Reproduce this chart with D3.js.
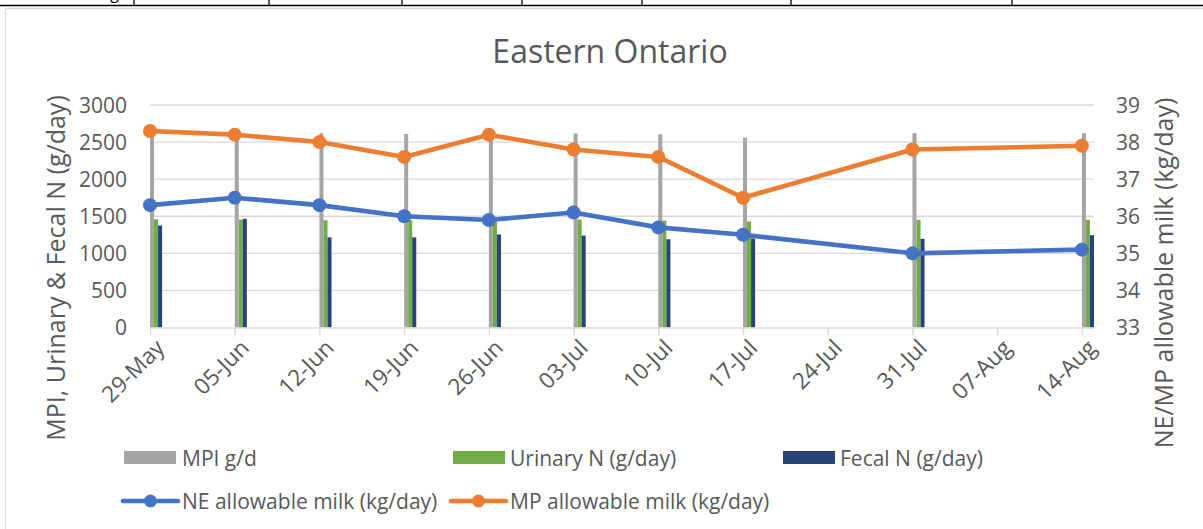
<!DOCTYPE html>
<html>
<head>
<meta charset="utf-8">
<script src="https://cdn.jsdelivr.net/npm/d3@7"></script>
<style>
  html, body { margin: 0; padding: 0; background: #fff; }
  svg { display: block; font-family: "Open Sans", "Noto Sans", sans-serif; }
</style>
</head>
<body>
<svg id="chart" width="1203" height="529"></svg>
<script>
// Weekly sampling dates (Eastern Ontario)
const dates = ["2021-05-29", "2021-06-05", "2021-06-12", "2021-06-19", "2021-06-26",
               "2021-07-03", "2021-07-10", "2021-07-17", "2021-07-31", "2021-08-14"];
// Bar series, g/day (left axis)
const mpi     = [2640, 2630, 2620, 2610, 2625, 2615, 2605, 2560, 2620, 2620];
const urinary = [1460, 1455, 1445, 1450, 1450, 1455, 1440, 1430, 1450, 1450];
const fecal   = [1375, 1465, 1215, 1215, 1255, 1240, 1190, 1200, 1195, 1245];
// Line series, kg/day (right axis)
const neMilk  = [36.3, 36.5, 36.3, 36.0, 35.9, 36.1, 35.7, 35.5, 35.0, 35.1];
const mpMilk  = [38.3, 38.2, 38.0, 37.6, 38.2, 37.8, 37.6, 36.5, 37.8, 37.9];
// Axis ticks
const xTickDates = ["2021-05-29", "2021-06-05", "2021-06-12", "2021-06-19", "2021-06-26", "2021-07-03",
                    "2021-07-10", "2021-07-17", "2021-07-24", "2021-07-31", "2021-08-07", "2021-08-14"];
const leftTicks  = [0, 500, 1000, 1500, 2000, 2500, 3000];
const rightTicks = [33, 34, 35, 36, 37, 38, 39];
// Fragments of the table row above the chart
const tableColumnEdges = [134, 269, 402, 522, 642, 791, 1012];

const barSeries = [
  { name: "MPI g/d", values: mpi, color: "#A5A5A5" },
  { name: "Urinary N (g/day)", values: urinary, color: "#70AD47" },
  { name: "Fecal N (g/day)", values: fecal, color: "#264478" }
];
const lineSeries = [
  { name: "NE allowable milk (kg/day)", values: neMilk, color: "#4472C4" },
  { name: "MP allowable milk (kg/day)", values: mpMilk, color: "#ED7D31" }
];

const parse = d3.utcParse("%Y-%m-%d");
const fmt = d3.utcFormat("%d-%b");
const day = 24 * 3600 * 1000;
const xDates = dates.map(parse);

const svg = d3.select("#chart");
const textColor = "#595959";
const gridColor = "#D9D9D9";

// Table lines at the very top
svg.append("line").attr("x1", 0).attr("x2", 1203).attr("y1", 5.5).attr("y2", 5.5)
  .attr("stroke", "#000").attr("stroke-width", 1.5);
svg.selectAll("line.tcol").data(tableColumnEdges).join("line").attr("class", "tcol")
  .attr("x1", d => d).attr("x2", d => d).attr("y1", 0).attr("y2", 6)
  .attr("stroke", "#000").attr("stroke-width", 1.3);
svg.append("text").attr("x", 119).attr("y", -1).attr("text-anchor", "end")
  .attr("font-size", 16).attr("fill", "#000").text("g");

// Chart frame
svg.append("path").attr("d", "M5.5,1210 V8.5 H1210")
  .attr("fill", "none").attr("stroke", "#D9D9D9").attr("stroke-width", 1.3);

const plot = { left: 150, right: 1094, top: 105, bottom: 327.5 };

const x = d3.scaleUtc()
  .domain([parse("2021-05-29"), parse("2021-08-15")])
  .range([plot.left, plot.right]);
const yL = d3.scaleLinear().domain([0, 3000]).range([plot.bottom, plot.top]);
const yR = d3.scaleLinear().domain([33, 39]).range([plot.bottom, plot.top]);

// Horizontal gridlines
svg.append("g").selectAll("line").data(leftTicks.filter(d => d > 0)).join("line")
  .attr("x1", plot.left).attr("x2", plot.right)
  .attr("y1", d => yL(d)).attr("y2", d => yL(d))
  .attr("stroke", gridColor).attr("stroke-width", 1.4);

// Left axis labels
svg.append("g").selectAll("text").data(leftTicks).join("text")
  .attr("x", 127).attr("y", d => yL(d)).attr("dy", "0.36em")
  .attr("text-anchor", "end").attr("font-size", 21).attr("fill", textColor)
  .text(d => d);

// Right axis labels
svg.append("g").selectAll("text").data(rightTicks).join("text")
  .attr("x", 1116).attr("y", d => yR(d)).attr("dy", "0.36em")
  .attr("text-anchor", "start").attr("font-size", 21).attr("fill", textColor)
  .text(d => d);

// Bars: each date occupies a one-day band split among the three series
const barW = (x(new Date(+xDates[0] + day)) - x(xDates[0])) / barSeries.length;
barSeries.forEach((s, si) => {
  svg.append("g").selectAll("rect").data(s.values).join("rect")
    .attr("x", (d, i) => x(xDates[i]) + si * barW)
    .attr("width", barW)
    .attr("y", d => yL(d))
    .attr("height", d => yL(0) - yL(d))
    .attr("fill", s.color);
});

// X axis line and ticks
const xAxis = svg.append("g").attr("transform", `translate(0,${plot.bottom})`)
  .call(d3.axisBottom(x).tickValues(xTickDates.map(parse)).tickSize(8).tickFormat(""));
xAxis.select(".domain").attr("stroke", gridColor).attr("stroke-width", 1.4)
  .attr("d", `M${plot.left},0.5H${plot.right}`);
xAxis.selectAll(".tick line").attr("stroke", gridColor).attr("stroke-width", 1.4);

// Rotated date labels
svg.append("g").selectAll("text").data(xTickDates.map(parse)).join("text")
  .attr("transform", d => `translate(${x(d) + 10},${plot.bottom + 16}) rotate(-45)`)
  .attr("text-anchor", "end").attr("dy", "0.36em")
  .attr("font-size", 22.5).attr("fill", textColor)
  .text(d => fmt(d));

// Lines with markers
lineSeries.forEach(s => {
  const pts = s.values.map((v, i) => [x(xDates[i]), yR(v)]);
  svg.append("path").attr("d", d3.line()(pts))
    .attr("fill", "none").attr("stroke", s.color).attr("stroke-width", 4.6)
    .attr("stroke-linejoin", "round").attr("stroke-linecap", "round");
  svg.append("g").selectAll("circle").data(pts).join("circle")
    .attr("cx", d => d[0]).attr("cy", d => d[1]).attr("r", 7)
    .attr("fill", s.color);
});

// Title
svg.append("text").attr("x", 610).attr("y", 63).attr("text-anchor", "middle")
  .attr("font-size", 32).attr("fill", textColor).text("Eastern Ontario");

// Axis titles
svg.append("text").attr("transform", "translate(65,268) rotate(-90)")
  .attr("text-anchor", "middle").attr("font-size", 25).attr("fill", textColor)
  .text("MPI, Urinary & Fecal N (g/day)");
svg.append("text").attr("transform", "translate(1173,273) rotate(-90)")
  .attr("text-anchor", "middle").attr("font-size", 25).attr("fill", textColor)
  .text("NE/MP allowable milk (kg/day)");

// Legend
const legendBars = [{ x: 124, tx: 182 }, { x: 453, tx: 510 }, { x: 783, tx: 840 }];
barSeries.forEach((s, i) => {
  const L = legendBars[i];
  svg.append("rect").attr("x", L.x).attr("y", 451).attr("width", 52).attr("height", 13).attr("fill", s.color);
  svg.append("text").attr("x", L.tx).attr("y", 458).attr("dy", "0.36em")
    .attr("font-size", 21).attr("fill", textColor).text(s.name);
});
const legendLines = [{ x: 123, tx: 182 }, { x: 451, tx: 510 }];
lineSeries.forEach((s, i) => {
  const L = legendLines[i];
  svg.append("line").attr("x1", L.x).attr("x2", L.x + 55).attr("y1", 501).attr("y2", 501)
    .attr("stroke", s.color).attr("stroke-width", 4.6).attr("stroke-linecap", "round");
  svg.append("circle").attr("cx", L.x + 27.5).attr("cy", 501).attr("r", 6.5).attr("fill", s.color);
  svg.append("text").attr("x", L.tx).attr("y", 501).attr("dy", "0.36em")
    .attr("font-size", 21).attr("fill", textColor).text(s.name);
});
</script>
</body>
</html>
